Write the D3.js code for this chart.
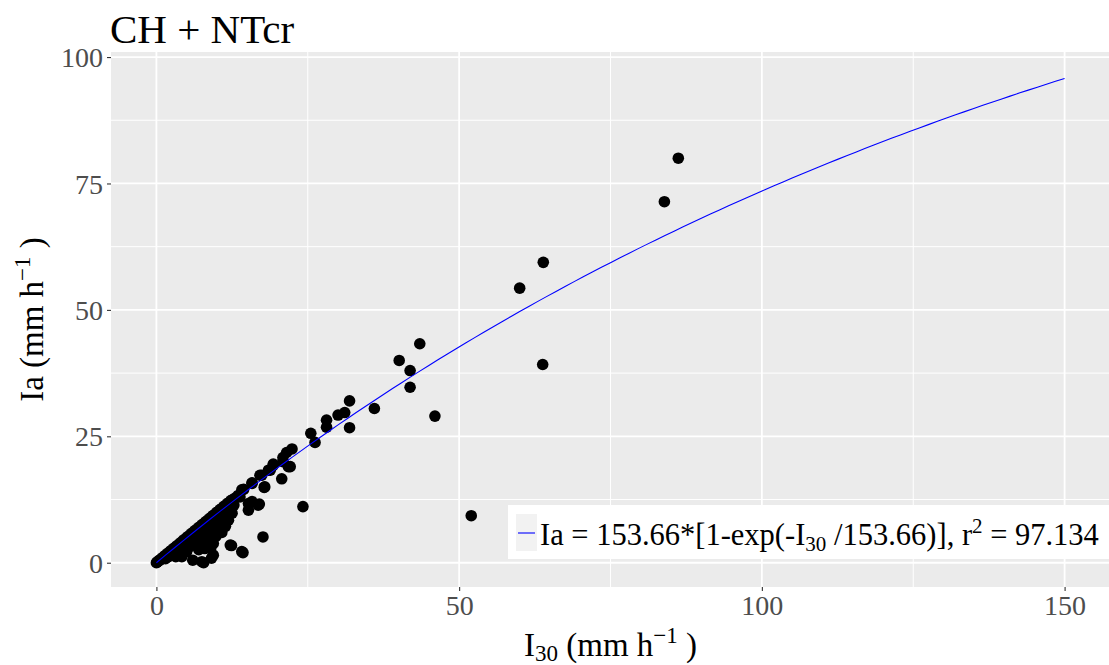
<!DOCTYPE html>
<html>
<head>
<meta charset="utf-8">
<script src="https://cdn.jsdelivr.net/npm/d3@7"></script>
<style>
  body { margin: 0; background: #fff; }
  svg text { font-family: "Liberation Serif", "Times New Roman", serif; }
</style>
</head>
<body>
<svg id="chart" width="1109" height="665"></svg>
<script>
// Observed pairs: I30 (mm h-1) and Ia (mm h-1)
const i30 = [
  0, 0.1, 0.3, 0.5, 0.7, 0.9, 1.1, 1.3, 1.5, 1.8, 2.0, 2.3, 2.5, 2.8, 3.0, 3.3, 3.6, 3.9, 4.2, 4.5,
  4.8, 5.1, 5.4, 5.7, 6.0, 6.3, 6.6, 6.9, 7.2, 7.5, 7.8, 8.1, 8.4, 8.7, 9.0, 9.3, 9.6, 9.9, 10.2, 10.5,
  10.8, 11.1, 11.4, 11.7, 12.0, 12.3, 12.6, 13.0, 13.5, 13.8, 14.1, 14.4,
  1.5, 2.0, 2.5, 3.0, 3.2, 3.5, 4.0, 4.2, 4.5, 5.0, 5.0, 5.5, 5.5, 6.0, 6.0, 6.2, 6.5, 6.8, 7.0, 7.0,
  7.5, 7.5, 7.8, 7.8, 8.0, 8.0, 8.3, 8.5, 8.5, 9.0, 9.0, 9.1, 9.4, 9.4, 9.5, 9.8, 10.0, 10.3, 10.5, 11.0,
  11.0, 11.5, 11.9, 12.0, 12.2, 12.4, 12.5, 12.8, 14.1, 14.3, 15.2, 15.2,
  3.8, 4.6, 5.2, 6.4, 7.2, 8.8, 9.8, 10.8, 11.4,
  15.8, 15.8, 15.8, 16.8, 17.0, 17.1, 17.4, 17.6, 17.8, 17.9, 18.5, 18.8, 19.3, 19.3, 20.7, 20.9, 20.9, 21.5,
  21.8, 22.1, 22.4, 24.2, 25.5, 26.2, 28.1, 28.1, 30.0, 31.1, 31.9, 31.9, 36.0, 40.1, 41.9, 41.9, 43.5, 46.0,
  52.0, 60.0, 63.9, 63.8, 83.9, 86.2
];
const ia = [
  0, 0.1, 0.3, 0.5, 0.6, 0.9, 1.0, 1.3, 1.4, 1.8, 1.9, 2.3, 2.4, 2.8, 2.9, 3.3, 3.5, 3.9, 4.1, 4.5,
  4.7, 5.1, 5.3, 5.7, 5.9, 6.3, 6.5, 6.9, 7.1, 7.5, 7.7, 8.1, 8.3, 8.7, 8.9, 9.3, 9.5, 9.9, 10.1, 10.5,
  10.7, 11.1, 11.3, 11.7, 11.9, 12.3, 12.5, 12.8, 13.3, 13.0, 14.4, 14.5,
  0.8, 1.2, 1.6, 2.0, 1.2, 2.6, 3.0, 1.2, 3.5, 2.2, 4.0, 3.2, 4.6, 0.5, 4.8, 3.8, 5.4, 4.2, 2.6, 5.8,
  0.2, 4.8, 0.0, 6.4, 2.8, 5.5, 7.0, 4.5, 6.3, 3.0, 7.4, 0.9, 1.5, 3.8, 5.6, 8.2, 6.8, 9.0, 7.6, 8.4,
  9.6, 10.0, 8.4, 10.8, 3.5, 3.4, 9.8, 11.4, 2.2, 2.0, 11.7, 10.4,
  2.4, 2.9, 3.6, 4.9, 4.0, 6.0, 5.2, 6.0, 7.2,
  15.7, 15.8, 12.1, 11.4, 11.6, 17.3, 17.3, 5.1, 14.9, 15.0, 18.3, 18.3, 19.5, 19.3, 16.6, 20.8, 20.0, 21.8,
  19.0, 19.0, 22.5, 11.1, 25.6, 23.8, 28.2, 26.8, 29.2, 29.7, 32.0, 26.7, 30.5, 40.0, 38.0, 34.7, 43.3, 29.0,
  9.3, 54.3, 59.4, 39.2, 71.4, 80.0
];

// Fitted model Ia = a * [1 - exp(-I30 / a)]
const fitA = 153.66;
const fitR2 = 97.134;
const fitMax = 150;

const xTicks = [0, 50, 100, 150];
const yTicks = [0, 25, 50, 75, 100];
const xMinor = [25, 75, 125];
const yMinor = [12.5, 37.5, 62.5, 87.5];

const titleText = "CH + NTcr";

const svg = d3.select("#chart");
const panel = { left: 111, right: 1110, top: 52, bottom: 587 };

const x = d3.scaleLinear().domain([-7.5, 157.5]).range([panel.left, panel.right]);
const y = d3.scaleLinear().domain([-4.8, 101]).range([panel.bottom, panel.top]);

// panel background
svg.append("rect")
  .attr("x", panel.left).attr("y", panel.top)
  .attr("width", panel.right - panel.left).attr("height", panel.bottom - panel.top)
  .attr("fill", "#EBEBEB");

const grid = svg.append("g");
grid.selectAll(".vminor").data(xMinor).join("line")
  .attr("x1", d => x(d)).attr("x2", d => x(d))
  .attr("y1", panel.top).attr("y2", panel.bottom)
  .attr("stroke", "#fff").attr("stroke-width", 1);
grid.selectAll(".hminor").data(yMinor).join("line")
  .attr("y1", d => y(d)).attr("y2", d => y(d))
  .attr("x1", panel.left).attr("x2", panel.right)
  .attr("stroke", "#fff").attr("stroke-width", 1);
grid.selectAll(".vmajor").data(xTicks).join("line")
  .attr("x1", d => x(d)).attr("x2", d => x(d))
  .attr("y1", panel.top).attr("y2", panel.bottom)
  .attr("stroke", "#fff").attr("stroke-width", 1.8);
grid.selectAll(".hmajor").data(yTicks).join("line")
  .attr("y1", d => y(d)).attr("y2", d => y(d))
  .attr("x1", panel.left).attr("x2", panel.right)
  .attr("stroke", "#fff").attr("stroke-width", 1.8);

// axes
const xAxis = d3.axisBottom(x).tickValues(xTicks).tickSize(4).tickPadding(4).tickFormat(d3.format("d"));
const yAxis = d3.axisLeft(y).tickValues(yTicks).tickSize(4).tickPadding(4).tickFormat(d3.format("d"));

const gx = svg.append("g").attr("transform", `translate(0,${panel.bottom})`).call(xAxis);
const gy = svg.append("g").attr("transform", `translate(${panel.left},0)`).call(yAxis);
[gx, gy].forEach(g => {
  g.select(".domain").remove();
  g.selectAll(".tick line").attr("stroke", "#333").attr("stroke-width", 1.1);
  g.selectAll(".tick text")
    .attr("fill", "#4D4D4D")
    .style("font-family", "'Liberation Serif', 'Times New Roman', serif")
    .style("font-size", "28px");
});
gx.selectAll(".tick text").attr("dy", "0.72em");
gy.selectAll(".tick text").attr("dy", "0.34em");

// points
const pts = i30.map((v, i) => [v, ia[i]]);
svg.append("g").selectAll("circle").data(pts).join("circle")
  .attr("cx", d => x(d[0])).attr("cy", d => y(d[1]))
  .attr("r", 5.8).attr("fill", "#000");

// fitted curve
const curveX = d3.range(0, fitMax + 0.001, 1.5);
const line = d3.line().x(d => x(d)).y(d => y(fitA * (1 - Math.exp(-d / fitA))));
svg.append("path").datum(curveX)
  .attr("d", line).attr("fill", "none")
  .attr("stroke", "#0000FF").attr("stroke-width", 1.1);

// legend
const lg = svg.append("g");
lg.append("rect").attr("x", 508).attr("y", 505).attr("width", 610).attr("height", 54).attr("fill", "#fff");
lg.append("rect").attr("x", 516).attr("y", 514).attr("width", 21).attr("height", 37).attr("fill", "#F2F2F2");
lg.append("line").attr("x1", 518).attr("x2", 535).attr("y1", 533).attr("y2", 533)
  .attr("stroke", "#0000FF").attr("stroke-width", 1.1);
const lt = lg.append("text").attr("x", 540).attr("y", 545).attr("font-size", 30.5).attr("fill", "#000");
lt.append("tspan").text(`Ia = ${fitA}*[1-exp(-I`);
lt.append("tspan").text("30").attr("font-size", 21).attr("dy", 6);
lt.append("tspan").text(` /${fitA})], r`).attr("dy", -6);
lt.append("tspan").text("2").attr("font-size", 21).attr("dy", -12);
lt.append("tspan").text(` = ${fitR2}`).attr("dy", 12);

// title
svg.append("text").attr("x", 110).attr("y", 43).attr("font-size", 41).attr("fill", "#000").text(titleText);

// x-axis title
const xt = svg.append("text").attr("x", (panel.left + panel.right) / 2).attr("y", 656)
  .attr("text-anchor", "middle").attr("font-size", 33).attr("fill", "#000");
xt.append("tspan").text("I");
xt.append("tspan").text("30").attr("font-size", 23).attr("dy", 5);
xt.append("tspan").text(" (mm h").attr("dy", -5);
xt.append("tspan").text("\u22121").attr("font-size", 23).attr("dy", -13);
xt.append("tspan").text(" )").attr("dy", 13);

// y-axis title
const yt = svg.append("text")
  .attr("transform", `translate(43,${(panel.top + panel.bottom) / 2}) rotate(-90)`)
  .attr("text-anchor", "middle").attr("font-size", 33).attr("fill", "#000");
yt.append("tspan").text("Ia (mm h");
yt.append("tspan").text("\u22121").attr("font-size", 23).attr("dy", -13);
yt.append("tspan").text(" )").attr("dy", 13);
</script>
</body>
</html>
